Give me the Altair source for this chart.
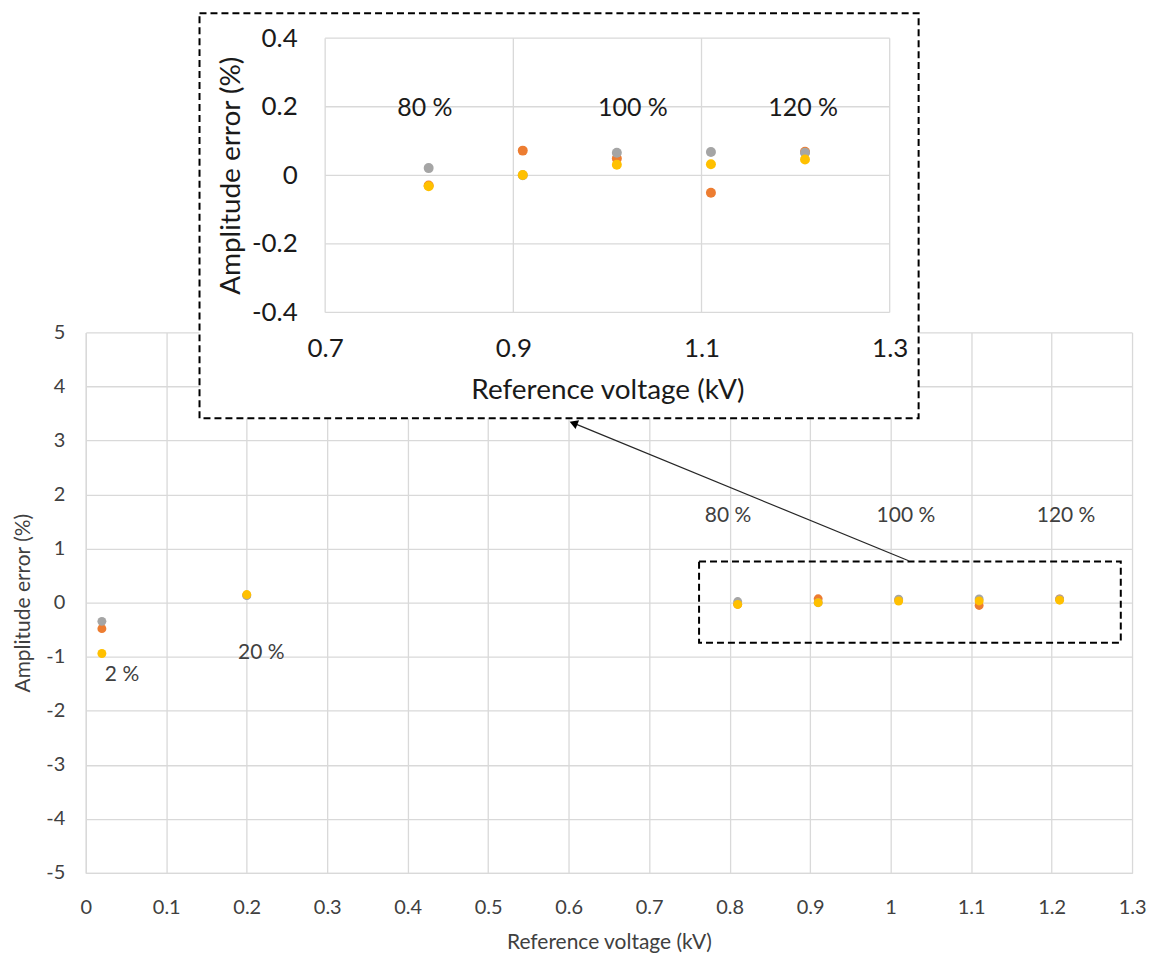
import altair as alt
import pandas as pd

# ---------------- data ----------------
voltage = [0.02, 0.2, 0.81, 0.91, 1.01, 1.11, 1.21]
series_names = ["Series B", "Series C", "Series D"]
series_colors = ["#ED7D31", "#A5A5A5", "#FFC000"]
err_b = [-0.48, 0.14, -0.030, 0.072, 0.049, -0.051, 0.069]
err_c = [-0.345, 0.13, 0.021, 0.000, 0.066, 0.068, 0.066]
err_d = [-0.94, 0.15, -0.032, 0.001, 0.031, 0.032, 0.046]

main_x_ticks = [0, 0.1, 0.2, 0.3, 0.4, 0.5, 0.6, 0.7, 0.8, 0.9, 1, 1.1, 1.2, 1.3]
main_y_ticks = [-5, -4, -3, -2, -1, 0, 1, 2, 3, 4, 5]
inset_x_ticks = [0.7, 0.9, 1.1, 1.3]
inset_y_ticks = [-0.4, -0.2, 0, 0.2, 0.4]

main_labels = ["2 %", "20 %", "80 %", "100 %", "120 %"]
main_label_x = [0.045, 0.218, 0.798, 1.019, 1.218]
main_label_y = [-1.33, -0.94, 1.60, 1.60, 1.60]

inset_labels = ["80 %", "100 %", "120 %"]
inset_label_x = [0.806, 1.027, 1.208]
inset_label_y = [0.195, 0.195, 0.195]

# highlight box, inset frame, arrow (main-chart data units)
hl_box = {"x0": 0.762, "x1": 1.286, "y0": -0.74, "y1": 0.76}
inset_frame = {"x0": 0.1413, "x1": 1.0348, "y0": 3.413, "y1": 10.904}
arrow = {"x0": 1.0224, "y0": 0.775, "x1": 0.606, "y1": 3.321}

MAIN_W, MAIN_H = 1049, 542
INSET_XR = [240, 806]
INSET_YR = [-20, -295]

FONT = "Lato"
TXT = "#404040"
INK = "#1a1a1a"
GRID = "#D9D9D9"
PLAIN = "'' + datum.value"

rows = []
for name, vals in zip(series_names, [err_b, err_c, err_d]):
    for v, e in zip(voltage, vals):
        rows.append({"v": v, "err": e, "series": name})
df = pd.DataFrame(rows)

color = alt.Color("series:N", scale=alt.Scale(domain=series_names, range=series_colors), legend=None)

# ---------------- main chart ----------------
mx = alt.Scale(domain=[0, 1.3], nice=False, zero=False)
my = alt.Scale(domain=[-5, 5], nice=False, zero=False)

main_points = alt.Chart(df).mark_circle(size=80, opacity=1).encode(
    x=alt.X("v:Q", scale=mx, axis=alt.Axis(
        values=main_x_ticks, labelExpr=PLAIN, title="Reference voltage (kV)", grid=True,
        gridColor=GRID, gridWidth=1.3, domainColor=GRID, domainWidth=1.3, ticks=False,
        labelFont=FONT, labelFontSize=20, labelColor=TXT, labelPadding=25, labelFlush=False,
        titleFont=FONT, titleFontSize=21, titleFontWeight="normal", titleColor=TXT,
        titlePadding=14)),
    y=alt.Y("err:Q", scale=my, axis=alt.Axis(
        values=main_y_ticks, labelExpr=PLAIN, title="Amplitude error (%)", grid=True,
        gridColor=GRID, gridWidth=1.3, domainColor=GRID, domainWidth=1.3, ticks=False,
        labelFont=FONT, labelFontSize=20, labelColor=TXT, labelPadding=21, labelFlush=False,
        titleFont=FONT, titleFontSize=21, titleFontWeight="normal", titleColor=TXT,
        titlePadding=12)),
    color=color,
)

main_text_df = pd.DataFrame({"x": main_label_x, "y": main_label_y, "t": main_labels})
main_text = alt.Chart(main_text_df).mark_text(font=FONT, fontSize=21, color=TXT).encode(
    x=alt.X("x:Q", scale=mx), y=alt.Y("y:Q", scale=my), text="t:N")

hl_df = pd.DataFrame([hl_box])
hl = alt.Chart(hl_df).mark_rect(fillOpacity=0, stroke="black", strokeWidth=2, strokeDash=[7, 4]).encode(
    x=alt.X("x0:Q", scale=mx), x2="x1:Q",
    y=alt.Y("y0:Q", scale=my), y2="y1:Q")

arrow_df = pd.DataFrame([arrow])
arrow_line = alt.Chart(arrow_df).mark_rule(color="#262626", strokeWidth=1.2).encode(
    x=alt.X("x0:Q", scale=mx), x2="x1:Q",
    y=alt.Y("y0:Q", scale=my), y2="y1:Q")
arrow_head = alt.Chart(arrow_df).mark_point(shape="triangle-up", filled=True, size=90,
                                            color="black", opacity=1, angle=292).encode(
    x=alt.X("x1:Q", scale=mx), y=alt.Y("y1:Q", scale=my))

frame_df = pd.DataFrame([inset_frame])
frame = alt.Chart(frame_df).mark_rect(fill="white", stroke="black", strokeWidth=2, strokeDash=[7, 4]).encode(
    x=alt.X("x0:Q", scale=mx), x2="x1:Q",
    y=alt.Y("y0:Q", scale=my), y2="y1:Q")

main_layer = alt.layer(main_points, main_text, hl, arrow_line, arrow_head, frame)

# ---------------- inset ----------------
ix = alt.Scale(domain=[0.7, 1.3], range=INSET_XR, nice=False, zero=False)
iy = alt.Scale(domain=[-0.4, 0.4], range=INSET_YR, nice=False, zero=False)

vgrid = pd.DataFrame({"gx": inset_x_ticks, "gy0": -0.4, "gy1": 0.4})
hgrid = pd.DataFrame({"gy": inset_y_ticks, "gx0": 0.7, "gx1": 1.3})

inset_vgrid = alt.Chart(vgrid).mark_rule(color=GRID, strokeWidth=1.3).encode(
    x=alt.X("gx:Q", scale=ix), y=alt.Y("gy0:Q", scale=iy), y2="gy1:Q")
inset_hgrid = alt.Chart(hgrid).mark_rule(color=GRID, strokeWidth=1.3).encode(
    y=alt.Y("gy:Q", scale=iy), x=alt.X("gx0:Q", scale=ix), x2="gx1:Q")

inset_points = alt.Chart(df).transform_filter("datum.v >= 0.7").mark_circle(size=100, opacity=1).encode(
    x=alt.X("v:Q", scale=ix, axis=alt.Axis(
        orient="bottom", offset=-(MAIN_H - INSET_YR[0]), values=inset_x_ticks, labelExpr=PLAIN,
        title="Reference voltage (kV)", grid=False, domain=False, ticks=False, zindex=2,
        labelFont=FONT, labelFontSize=26, labelColor=INK, labelPadding=23, labelFlush=False,
        titleFont=FONT, titleFontSize=28, titleFontWeight="normal", titleColor=INK,
        titlePadding=15)),
    y=alt.Y("err:Q", scale=iy, axis=alt.Axis(
        orient="left", offset=-INSET_XR[0], values=inset_y_ticks, labelExpr=PLAIN,
        title="Amplitude error (%)", grid=False, domain=False, ticks=False, zindex=2,
        labelFont=FONT, labelFontSize=26, labelColor=INK, labelPadding=28, labelFlush=False,
        titleFont=FONT, titleFontSize=28, titleFontWeight="normal", titleColor=INK,
        titlePadding=6)),
    color=color,
)

inset_text_df = pd.DataFrame({"x": inset_label_x, "y": inset_label_y, "t": inset_labels})
inset_text = alt.Chart(inset_text_df).mark_text(font=FONT, fontSize=25, color=INK).encode(
    x=alt.X("x:Q", scale=ix), y=alt.Y("y:Q", scale=iy), text="t:N")

inset_layer = alt.layer(inset_vgrid, inset_hgrid, inset_points, inset_text)

chart = alt.layer(main_layer, inset_layer).resolve_scale(
    x="independent", y="independent", color="shared"
).properties(
    width=MAIN_W, height=MAIN_H, background="white",
    padding={"left": 4, "top": 3, "right": 5, "bottom": 5}
).configure_view(stroke=None)

chart.save("out.html", embed_options={"renderer": "svg", "actions": False})
